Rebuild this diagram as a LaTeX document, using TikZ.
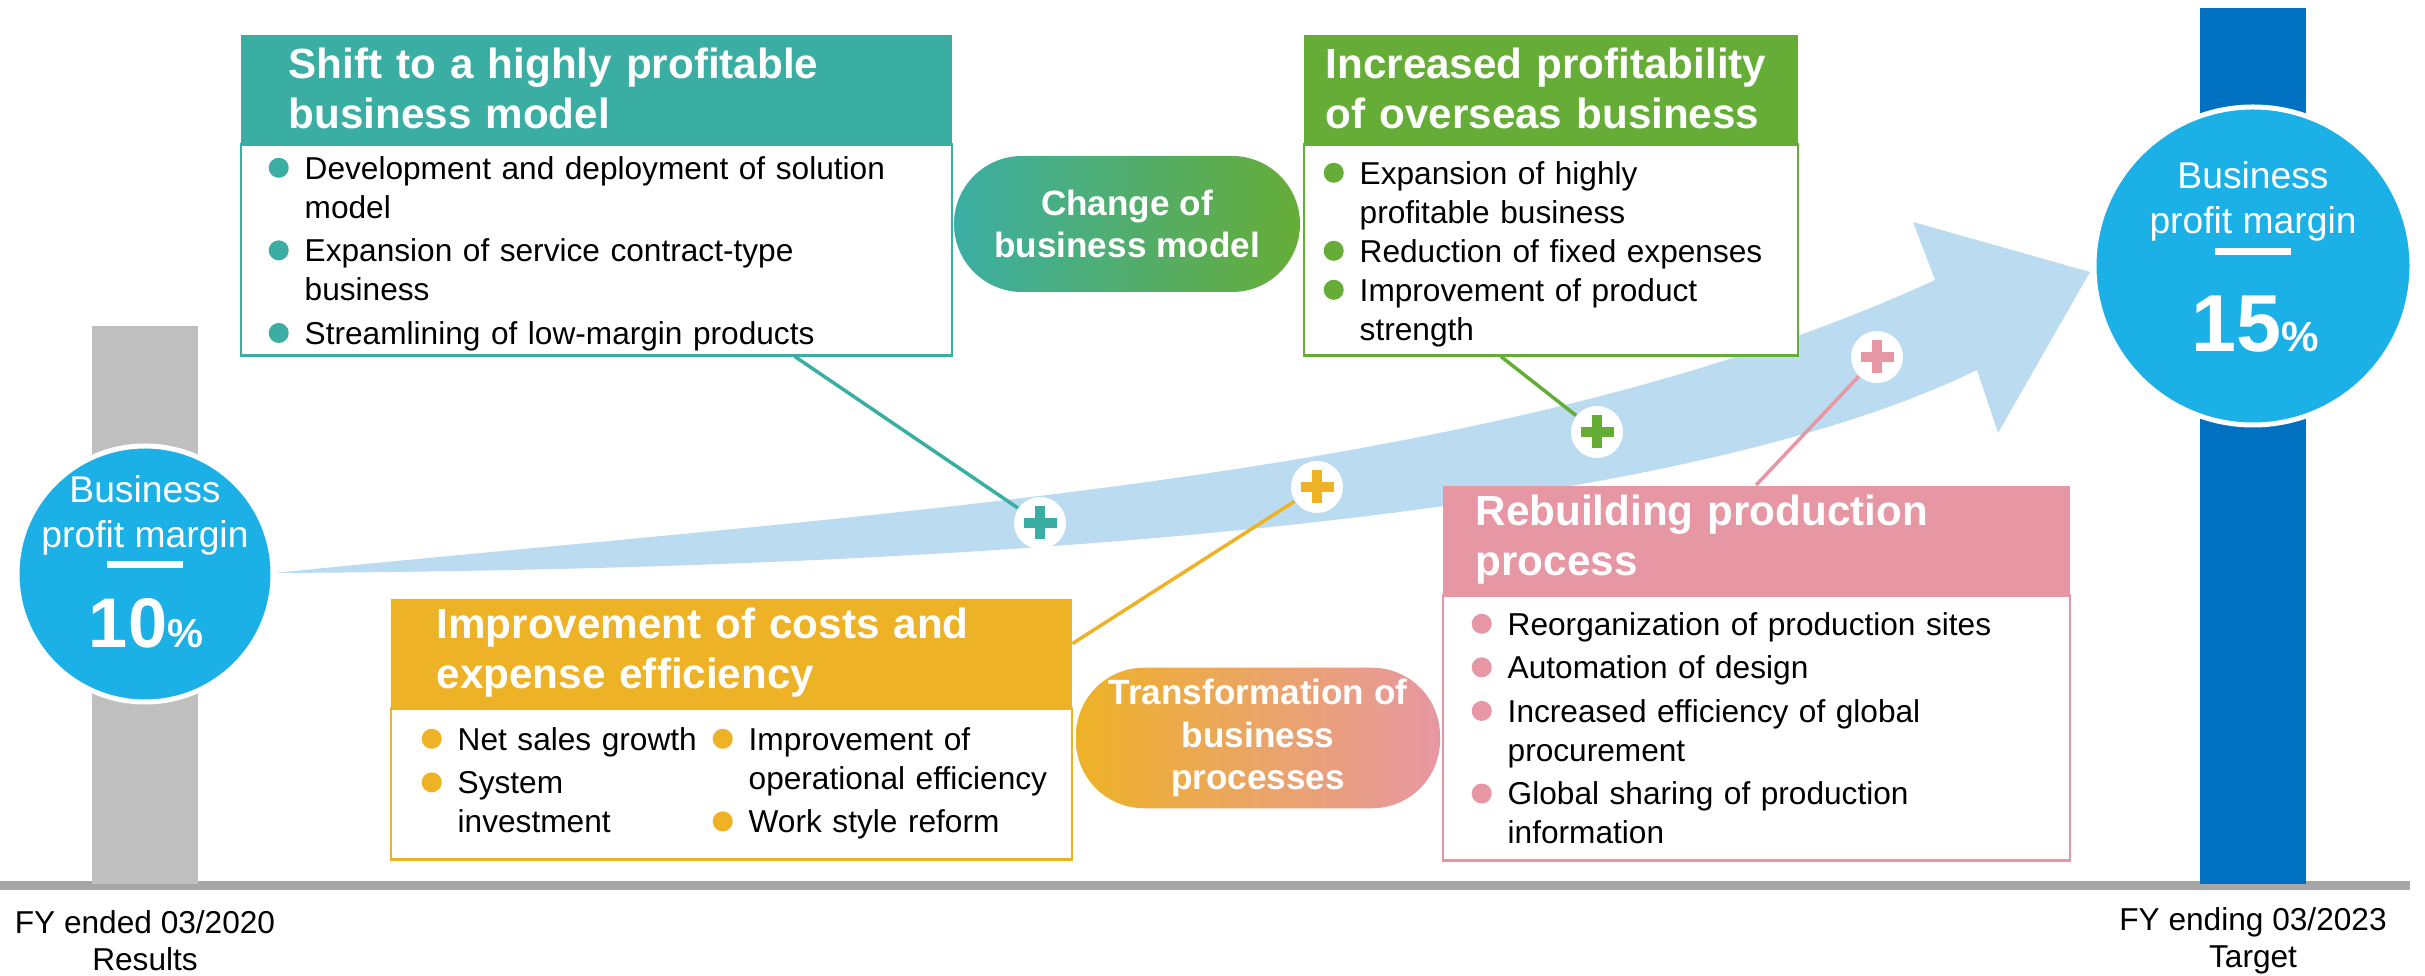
\documentclass[tikz,border=0pt]{standalone}
\usepackage{fontspec}
\setmainfont{Liberation Sans}
\usepackage{xcolor}
\usetikzlibrary{calc}
\definecolor{tealbox}{HTML}{3BAEA4}
\definecolor{greenbox}{HTML}{66AD37}
\definecolor{amber}{HTML}{EEB227}
\definecolor{rose}{HTML}{E797A3}
\definecolor{sky}{HTML}{1BB0E6}
\definecolor{skylight}{HTML}{BBDBF1}
\definecolor{deepblue}{HTML}{0070C0}
\definecolor{bargray}{HTML}{BFBFBF}
\definecolor{axisgray}{HTML}{A6A6A6}
\newlength\bulind
\setlength\bulind{3.6mm}
\newlength\itemgap
\setlength\itemgap{1.3pt}
\newcommand\bitem[2]{\setlength\parskip{\itemgap}\noindent\hangindent=\bulind\hangafter=1
  \makebox[\bulind][l]{\tikz[baseline=0pt]\fill[#1] (2.85pt,3.2pt) circle (2.85pt);}#2\par}
\tikzset{
  hdr/.style={rectangle, anchor=north west, fill=#1, text=white, inner ysep=0pt,
    minimum height=10.8mm, font=\fontsize{12}{14.2}\selectfont\bfseries, align=left},
  frame/.style={rectangle, anchor=north west, draw=#1, line width=0.6pt, fill=white},
  list/.style={anchor=north west, inner sep=0pt, font=\fontsize{9}{11.1}\selectfont, align=left},
  pill/.style={rectangle, rounded corners=6.8mm, minimum height=13.6mm, text=white,
    font=\fontsize{10}{12}\selectfont\bfseries, align=center},
  plusmk/.style={circle, fill=white, minimum size=5.2mm, inner sep=0pt,
    path picture={
      \draw[#1, line width=1mm] ([xshift=-1.65mm]path picture bounding box.center) -- ([xshift=1.65mm]path picture bounding box.center);
      \draw[#1, line width=1mm] ([yshift=-1.65mm]path picture bounding box.center) -- ([yshift=1.65mm]path picture bounding box.center);}},
  link/.style={draw=#1, line width=0.35mm},
  target/.style={circle, fill=sky, draw=white, line width=0.5mm, inner sep=0pt},
  ctext/.style={text=white, font=\fontsize{10.6}{12.8}\selectfont, align=center},
  pct/.style={text=white, anchor=base, font=\bfseries},
  lbl/.style={font=\fontsize{9}{10.5}\selectfont, align=center}
}

\begin{document}
\begin{tikzpicture}[x=0.1mm, y=-0.1mm]
  \useasboundingbox (0,0) rectangle (2425,976);

  % axis and the two bars
  \fill[axisgray] (0,881) rectangle (2410,890);
  \fill[bargray] (92,326) rectangle (198,884);
  \fill[deepblue] (2200,8) rectangle (2306,884);

  % growth arrow
  \fill[skylight] (274,573) .. controls (900,510) and (1500,480) .. (1935,280)
    -- (1913,222) -- (2090,272) -- (1998,433) -- (1977,370)
    .. controls (1650,530) and (900,570) .. cycle;

  % start and target circles
  \node[target, minimum size=25.6mm] (now) at (145,574) {};
  \node[ctext] (nowcap) at (145,515) {Business\\profit margin};
  \draw[white, line width=0.7mm] (107,565) -- (183,565);
  \node[pct] (nowval) at (146,648) {\fontsize{20}{20}\selectfont 10{\fontsize{11.5}{11.5}\selectfont\%}};

  \node[target, minimum size=31.8mm] (goal) at (2253,266) {};
  \node[ctext] (goalcap) at (2253,201) {Business\\profit margin};
  \draw[white, line width=0.7mm] (2215,252) -- (2291,252);
  \node[pct] (goalval) at (2255,352) {\fontsize{23}{23}\selectfont 15{\fontsize{12}{12}\selectfont\%}};

  \node[lbl] (startlbl) at (145,941) {FY ended 03/2020\\Results};
  \node[lbl] (goallbl) at (2253,941) {FY ending 03/2023\\Target};

  % boxes
  \node[hdr=tealbox, inner xsep=4.8mm, text width=61.5mm] (shifthd) at (240,34)
    {Shift to a highly profitable\\business model};
  \node[frame=tealbox, minimum width=71.1mm, minimum height=21.1mm] (shiftbd) at (shifthd.south west) {};
  \node[list, text width=65mm] (shiftlist) at ($(shiftbd.north west)+(28,12)$) {%
    \bitem{tealbox}{Development and deployment of solution\newline model}
    \bitem{tealbox}{Expansion of service contract-type\newline business}
    \bitem{tealbox}{Streamlining of low-margin products}};

  \node[hdr=greenbox, inner xsep=2.2mm, text width=45mm] (overhd) at (1303,34)
    {Increased profitability\\of overseas business};
  \node[frame=greenbox, minimum width=49.4mm, minimum height=21.1mm] (overbd) at (overhd.south west) {};
  \node[list, text width=46mm] (overlist) at ($(overbd.north west)+(20,17)$) {%
    \setlength\itemgap{0pt}%
    \bitem{greenbox}{Expansion of highly\newline profitable business}
    \bitem{greenbox}{Reduction of fixed expenses}
    \bitem{greenbox}{Improvement of product\newline strength}};

  \node[hdr=amber, inner xsep=4.6mm, text width=58.9mm] (costhd) at (390,598)
    {Improvement of costs and\\expense efficiency};
  \node[frame=amber, minimum width=68.1mm, minimum height=15.1mm] (costbd) at (costhd.south west) {};
  \node[list, text width=64mm] (costlist) at ($(costbd.north west)+(31,19)$) {%
    \begin{minipage}[t]{29.1mm}\raggedright
      \bitem{amber}{Net sales growth}
      \bitem{amber}{System\newline investment}
    \end{minipage}%
    \begin{minipage}[t]{34.9mm}\raggedright
      \bitem{amber}{Improvement of\newline operational efficiency}
      \bitem{amber}{Work style reform}
    \end{minipage}};

  \node[hdr=rose, inner xsep=3.3mm, text width=56.1mm] (prodhd) at (1442,485)
    {Rebuilding production\\process};
  \node[frame=rose, minimum width=62.7mm, minimum height=26.5mm] (prodbd) at (prodhd.south west) {};
  \node[list, text width=58mm] (prodlist) at ($(prodbd.north west)+(29,17)$) {%
    \bitem{rose}{Reorganization of production sites}
    \bitem{rose}{Automation of design}
    \bitem{rose}{Increased efficiency of global\newline procurement}
    \bitem{rose}{Global sharing of production\newline information}};

  % the two themes
  \node[pill, minimum width=34.6mm, left color=tealbox, right color=greenbox] (model) at (1127,224)
    {Change of\\business model};
  \node[pill, minimum width=36.4mm, left color=amber, right color=rose] (process) at (1258,738)
    {Transformation of\\business\\processes};

  % plus markers on the arrow
  \node[plusmk=tealbox] (pshift) at (1040,523) {};
  \node[plusmk=amber] (pcost) at (1317,487) {};
  \node[plusmk=greenbox] (pover) at (1597,432) {};
  \node[plusmk=rose] (pprod) at (1877,357) {};

  \coordinate (shiftend) at ($(shiftbd.south west)!0.778!(shiftbd.south east)$);
  \coordinate (costend) at ($(costhd.north east)!0.417!(costhd.south east)$);
  \coordinate (overend) at ($(overbd.south west)!0.399!(overbd.south east)$);
  \draw[link=tealbox] (shiftend) -- (pshift);
  \draw[link=amber] (costend) -- (pcost);
  \draw[link=greenbox] (overend) -- (pover);
  \draw[link=rose] (prodhd.north) -- (pprod);
\end{tikzpicture}
\end{document}
